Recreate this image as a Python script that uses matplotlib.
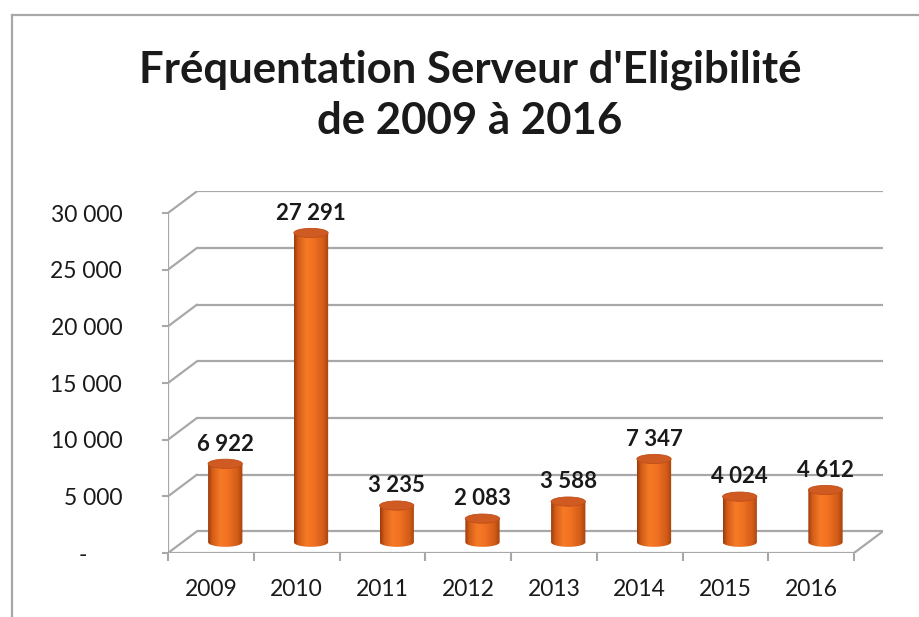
import numpy as np
import matplotlib
matplotlib.use("Agg")
import matplotlib.pyplot as plt
from matplotlib.patches import Polygon, Ellipse
from matplotlib.lines import Line2D
from matplotlib.colors import to_rgb

# ---- data ----
categories = ["2009", "2010", "2011", "2012", "2013", "2014", "2015", "2016"]
values = [6922, 27291, 3235, 2083, 3588, 7347, 4024, 4612]
yticks = [0, 5000, 10000, 15000, 20000, 25000, 30000]
ytick_labels = ["-      ", "5 000", "10 000", "15 000", "20 000", "25 000", "30 000"]
title_line1 = "Fréquentation Serveur d'Eligibilité"
title_line2 = "de 2009 à 2016"

FONT = ["Lato", "DejaVu Sans"]
plt.rcParams["font.family"] = FONT

W, H = 919, 617
fig = plt.figure(figsize=(W / 100, H / 100), dpi=100)
fig.patch.set_facecolor("white")

# pseudo-3D depth (data units)
dx = 0.335
dy = 1900
ymax = 30000
n = len(categories)

px_per_cat = (854 - 168) / n
px_per_unit = (553 - 213) / ymax
left_px, base_px = 168, 553
ax_w = (n + dx) * px_per_cat
ax_h = (ymax + dy) * px_per_unit
ax = fig.add_axes([left_px / W, (H - base_px) / H, ax_w / W, ax_h / H])
ax.set_facecolor("none")
for s in ax.spines.values():
    s.set_visible(False)

grid_c = "#a8a8a8"
glw = 1.6
x0, x1 = -0.5, n - 0.5

# back wall gridlines + left wall diagonals
for v in yticks:
    ax.plot([x0 + dx, x1 + dx], [v + dy, v + dy], color=grid_c, lw=glw, zorder=1,
            solid_capstyle="butt")
    ax.plot([x0, x0 + dx], [v, v + dy], color=grid_c, lw=glw, zorder=1)
# front vertical axis line and front floor line, right floor diagonal
ax.plot([x0, x0], [0, ymax], color=grid_c, lw=glw, zorder=1)
ax.plot([x0, x1], [0, 0], color=grid_c, lw=glw, zorder=1)
ax.plot([x1, x1 + dx], [0, dy], color=grid_c, lw=glw, zorder=1)

# cylinders
bw = 0.40
eh = 4.6 / px_per_unit  # ellipse semi-height in data units
stops = [(0.0, "#9c3a0c"), (0.12, "#d25c18"), (0.35, "#f57a26"),
         (0.55, "#f27222"), (0.85, "#d25c18"), (1.0, "#a4420e")]
xs = np.linspace(0, 1, 128)
grad = np.zeros((1, 128, 3))
for ch in range(3):
    grad[0, :, ch] = np.interp(xs, [p for p, _ in stops], [to_rgb(c)[ch] for _, c in stops])

for i, v in enumerate(values):
    cx = i + dx / 2
    base = dy / 2
    top = v + dy / 2
    l, r = cx - bw / 2, cx + bw / 2
    th = np.linspace(np.pi, 2 * np.pi, 60)
    bottom_arc = np.column_stack([cx + bw / 2 * np.cos(th), base + eh * np.sin(th)])
    pts = np.vstack([[l, top], bottom_arc, [r, top]])
    body = Polygon(pts, closed=True, facecolor="none", edgecolor="none", zorder=3)
    ax.add_patch(body)
    im = ax.imshow(grad, extent=(l, r, base - eh, top), aspect="auto",
                   interpolation="bilinear", zorder=3)
    im.set_clip_path(body)
    ax.add_patch(Ellipse((cx, top), bw, 2 * eh, facecolor="#cf5a22",
                         edgecolor="#bf4e18", lw=0.6, zorder=4))
    ax.annotate(f"{v:,}".replace(",", " "), xy=(cx, top), xytext=(0, 9.5),
                textcoords="offset points", ha="center", va="baseline",
                fontsize=16, fontweight="bold", color="#1a1a1a", zorder=5)

ax.set_xlim(x0, x1 + dx)
ax.set_ylim(0, ymax + dy)

# ticks
ax.set_yticks(yticks)
ax.set_yticklabels(ytick_labels)
ax.tick_params(axis="y", length=4, width=1.5, color=grid_c, pad=29,
               labelsize=16.5, labelcolor="#1a1a1a")
ax.set_xticks(np.arange(n + 1) - 0.5)
ax.set_xticklabels([])
ax.set_xticks(np.arange(n), minor=True)
ax.set_xticklabels(categories, minor=True)
ax.tick_params(axis="x", which="major", length=5.5, width=1.5, color=grid_c, direction="out")
ax.tick_params(axis="x", which="minor", length=0, pad=19, labelsize=16.5,
               labelcolor="#1a1a1a")

# title
fig.text(470 / W, 1 - 83 / H, title_line1, ha="center", va="baseline",
         fontsize=31.5, fontweight="bold", color="#1a1a1a")
fig.text(470 / W, 1 - 134 / H, title_line2, ha="center", va="baseline",
         fontsize=31.5, fontweight="bold", color="#1a1a1a")

# chart-area border (left and top)
bc = "#a8a8a8"
fig.add_artist(Line2D([11.5 / W, 11.5 / W], [0, 1 - 15 / H], color=bc, lw=1.6,
                      transform=fig.transFigure))
fig.add_artist(Line2D([11.5 / W, 1], [1 - 15 / H, 1 - 15 / H], color=bc, lw=1.6,
                      transform=fig.transFigure))

fig.savefig("out.png", dpi=100, facecolor="white")
